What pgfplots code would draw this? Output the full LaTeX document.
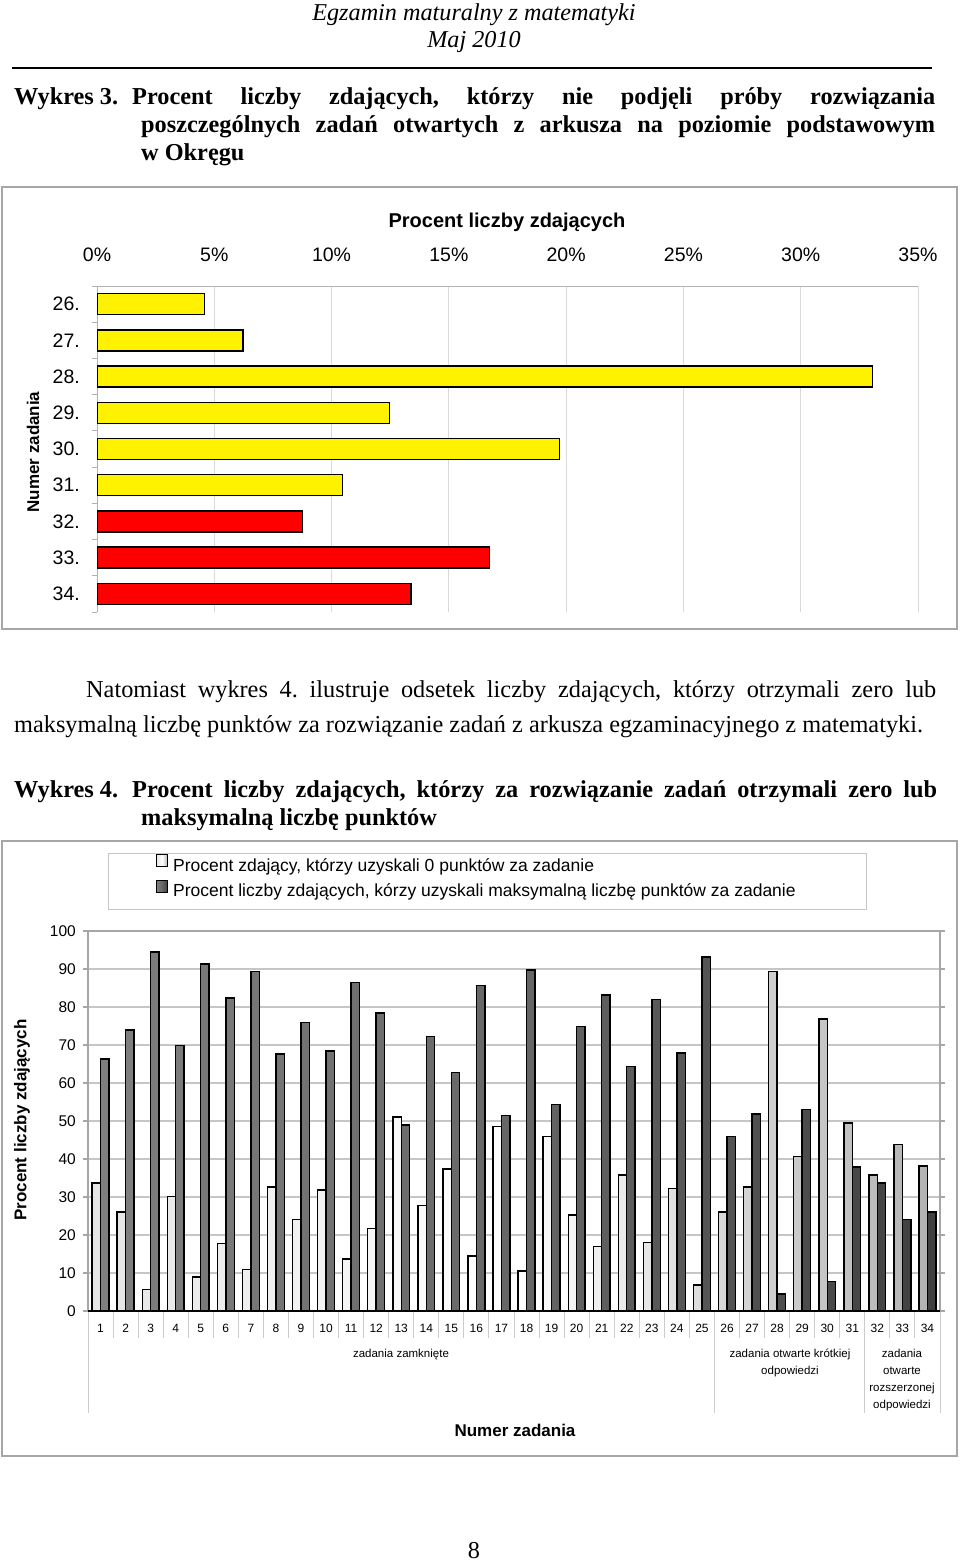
\documentclass[border=0pt]{standalone}
\usepackage{pgfplots}
\pgfplotsset{compat=1.18}
\usepackage{pgfplotstable}
\usepackage{fontspec}
\setmainfont{Liberation Serif}
\newfontfamily\chartfont{Liberation Sans}

\pgfplotstableread{
n zero max
1 33.7 66.3
2 26.1 74.0
3 5.7 94.5
4 30.1 69.9
5 8.9 91.3
6 17.8 82.4
7 10.9 89.3
8 32.6 67.6
9 24.1 75.9
10 31.8 68.4
11 13.7 86.5
12 21.7 78.4
13 51.1 49.0
14 27.8 72.3
15 37.4 62.7
16 14.5 85.6
17 48.6 51.4
18 10.5 89.7
19 45.9 54.3
20 25.3 74.8
21 16.9 83.2
22 35.8 64.4
23 18.0 82.0
24 32.2 67.9
25 6.8 93.2
26 26.1 45.9
27 32.6 51.8
28 89.3 4.5
29 40.6 53.1
30 76.8 7.7
31 49.5 37.9
32 35.8 33.7
33 43.8 24.1
34 38.2 26.1
}\wykrescztery

\pgfplotstableread{
pos val
8 4.59
7 6.23
6 33.05
5 12.47
4 19.72
3 10.46
}\krotkie

\pgfplotstableread{
pos val
2 8.76
1 16.74
0 13.38
}\rozszerzone

\begin{document}
\frenchspacing
\begin{tikzpicture}[x=1pt,y=-1pt]
\path[use as bounding box] (0,0) rectangle (960,1561);

% header
\node[anchor=base, inner sep=0pt, font=\fontsize{24.2}{28}\selectfont\itshape] at (474,20) {Egzamin maturalny z matematyki};
\node[anchor=base, inner sep=0pt, font=\fontsize{24.2}{28}\selectfont\itshape] at (474,47) {Maj 2010};
\draw[line width=1.8pt] (12,68) -- (932,68);

% caption 3
\begin{scope}[every node/.style={anchor=base west, inner sep=0pt, font=\fontsize{24.3}{28}\selectfont\bfseries}]
\node at (14,104) {Wykres 3.};
\node at (132,104) {\makebox[803pt][s]{Procent liczby zdających, którzy nie podjęli próby rozwiązania}};
\node at (141,132) {\makebox[794pt][s]{poszczególnych zadań otwartych z arkusza na poziomie podstawowym}};
\node at (141,160) {w Okręgu};
\end{scope}

% frame chart 1
\draw[gray!70, line width=1.2pt] (2,187) rectangle (957,629);
\node[anchor=base, inner sep=0pt, font=\chartfont\fontsize{20}{24}\selectfont\bfseries] at (507,227) {Procent liczby zdających};
\node[rotate=90, inner sep=0pt, font=\chartfont\fontsize{17}{20}\selectfont\bfseries] at (33,452) {Numer zadania};

\begin{axis}[
  at={(97pt,-612pt)}, anchor=south west, scale only axis,
  width=821pt, height=326pt,
  xmin=0, xmax=35, ymin=-0.5, ymax=8.5,
  axis x line*=top, axis y line*=left,
  axis line style={gray!60, line width=1pt},
  xtick={0,5,...,35},
  xticklabels={0\%,5\%,10\%,15\%,20\%,25\%,30\%,35\%},
  ytick={0,...,8},
  yticklabels={34.,33.,32.,31.,30.,29.,28.,27.,26.},
  minor ytick={-0.5,0.5,...,8.5},
  major tick length=0pt, minor tick length=5pt, tick align=outside,
  minor tick style={gray!60, line width=1pt},
  xmajorgrids, grid style={gray!30, line width=0.8pt},
  tick label style={font=\chartfont\fontsize{19.5}{22}\selectfont, text=black},
  xticklabel style={anchor=base, inner sep=0pt, yshift=25pt},
  yticklabel style={anchor=east, inner sep=0pt, xshift=-17pt},
]
\addplot[xbar, bar shift=0pt, bar width=21pt, draw=black, line width=1.5pt, fill=yellow] table[x=val, y=pos] {\krotkie};
\addplot[xbar, bar shift=0pt, bar width=21pt, draw=black, line width=1.5pt, fill=red] table[x=val, y=pos] {\rozszerzone};
\end{axis}

% paragraph
\begin{scope}[every node/.style={anchor=base west, inner sep=0pt, font=\fontsize{24.3}{35}\selectfont}]
\node at (86,697) {\makebox[850pt][s]{Natomiast wykres 4. ilustruje odsetek liczby zdających, którzy otrzymali zero lub}};
\node at (14,732) {maksymalną liczbę punktów za rozwiązanie zadań z arkusza egzaminacyjnego z matematyki.};
\end{scope}

% caption 4
\begin{scope}[every node/.style={anchor=base west, inner sep=0pt, font=\fontsize{24.3}{28}\selectfont\bfseries}]
\node at (14,797) {Wykres 4.};
\node at (132,797) {\makebox[805pt][s]{Procent liczby zdających, którzy za rozwiązanie zadań otrzymali zero lub}};
\node at (141,825) {maksymalną liczbę punktów};
\end{scope}

% frame chart 2
\draw[gray!70, line width=1.2pt] (2,841) rectangle (957,1456);
\draw[gray!45, line width=1pt] (108,853) rectangle (866,909);
\node[rotate=90, inner sep=0pt, font=\chartfont\fontsize{17}{20}\selectfont\bfseries] at (22,1120) {Procent liczby zdających};
\node[anchor=base, inner sep=0pt, font=\chartfont\fontsize{17}{20}\selectfont\bfseries] at (515,1436) {Numer zadania};

% category separators
\foreach \k in {0,...,34} \draw[gray!40, line width=1pt] ({88+\k*25.0588},1311) -- ({88+\k*25.0588},1338);
\foreach \k in {0,25,31,34} \draw[gray!40, line width=1pt] ({88+\k*25.0588},1311) -- ({88+\k*25.0588},1413);

\begin{scope}[every node/.style={anchor=base, inner sep=0pt, font=\chartfont\fontsize{11.5}{14}\selectfont}]
\node at (401,1357) {zadania zamknięte};
\node at (790,1357) {zadania otwarte krótkiej};
\node at (790,1374) {odpowiedzi};
\node at (902,1357) {zadania};
\node at (902,1374) {otwarte};
\node at (902,1391) {rozszerzonej};
\node at (902,1408) {odpowiedzi};
\end{scope}

\begin{axis}[
  at={(88pt,-1311pt)}, anchor=south west, scale only axis,
  width=852pt, height=380pt,
  xmin=0.5, xmax=34.5, ymin=0, ymax=100,
  /pgf/number format/assume math mode=true,
  axis line style={gray!70, line width=1.2pt},
  xtick={1,...,34},
  ytick={0,10,...,100},
  ymajorgrids, grid style={gray!45, line width=1.2pt},
  extra y ticks={0}, extra y tick labels={},
  extra y tick style={grid style={black, line width=1.3pt}},
  tick align=outside, major tick length=5pt,
  xtick style={draw=none},
  ytick style={gray!70, line width=1.2pt},
  xticklabel style={font=\chartfont\fontsize{12}{14}\selectfont, anchor=base, inner sep=0pt, yshift=-16.5pt},
  yticklabel style={font=\chartfont\fontsize{15.5}{18}\selectfont, anchor=east, inner sep=0pt, xshift=-7pt},
  ybar=0pt, bar width=8.4pt,
  legend cell align=left,
  legend style={at={(0.0798,1.142)}, anchor=west, draw=none, fill=none, inner sep=0pt, row sep=5pt, column sep=3pt,
    font=\chartfont\fontsize{17.5}{20}\selectfont},
  legend image code/.code={\draw[#1, line width=1pt] (0pt,-1pt) rectangle (11pt,11pt);},
]
\addplot[ybar, draw=black, line width=1.4pt, left color=gray!20, right color=gray!60, middle color=white] table[x=n, y=zero] {\wykrescztery};
\addplot[ybar, draw=black, line width=1.4pt, left color=black!50, right color=black!75, middle color=black!60] table[x=n, y=max] {\wykrescztery};
\legend{{Procent zdający, którzy uzyskali 0 punktów za zadanie},{Procent liczby zdających, kórzy uzyskali maksymalną liczbę punktów za zadanie}}
\end{axis}

\node[anchor=base, inner sep=0pt, font=\fontsize{24.2}{28}\selectfont] at (474,1558) {8};
\end{tikzpicture}
\end{document}
